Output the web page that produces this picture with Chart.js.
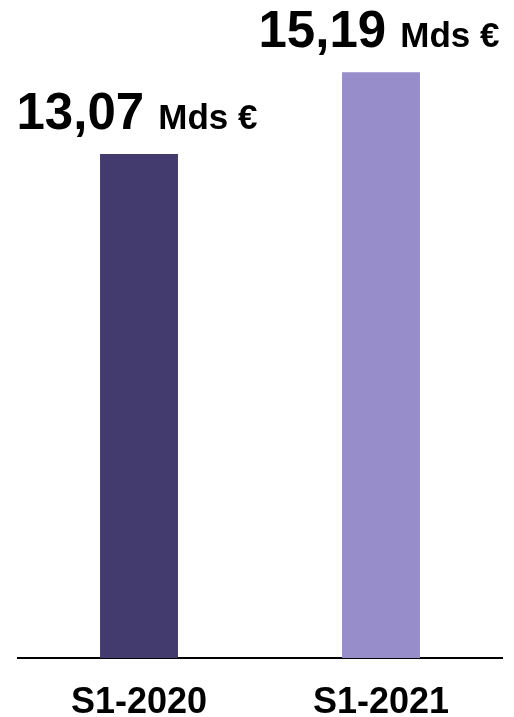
<!DOCTYPE html>
<html lang="fr">
<head>
<meta charset="utf-8">
<title>Chiffre d'affaires S1</title>
<script src="https://cdn.jsdelivr.net/npm/chart.js@4/dist/chart.umd.min.js"></script>
<style>
  html, body { margin: 0; padding: 0; background: #ffffff; }
  #wrap { position: relative; width: 514px; height: 717px; }
</style>
</head>
<body>
<div id="wrap"><canvas id="ca-chart"></canvas></div>
<script>
// données
var categories = ['S1-2020', 'S1-2021'];
var valeurs = [13.07, 15.19];
var couleurs = ['#433a6e', '#968dca'];
var unite = 'Mds €';

var FONT = '"Liberation Sans", Arial, Helvetica, sans-serif';

function formatFr(v) {
  return v.toFixed(2).replace('.', ',');
}

// étiquettes au-dessus des barres : gros chiffre + unité plus petite
var valueLabels = {
  id: 'valueLabels',
  afterDatasetsDraw: function (chart) {
    var ctx = chart.ctx;
    var meta = chart.getDatasetMeta(0);
    ctx.save();
    ctx.fillStyle = '#000000';
    ctx.textBaseline = 'alphabetic';
    ctx.textAlign = 'left';
    meta.data.forEach(function (bar, i) {
      var big = formatFr(valeurs[i]) + ' ';
      ctx.font = 'bold 51px ' + FONT;
      var wBig = ctx.measureText(big).width;
      ctx.font = 'bold 35px ' + FONT;
      var wSmall = ctx.measureText(unite).width;
      var x0 = bar.x - 2 - (wBig + wSmall) / 2;
      var y = bar.y - 25;
      ctx.font = 'bold 51px ' + FONT;
      ctx.fillText(big, x0, y);
      ctx.font = 'bold 35px ' + FONT;
      ctx.fillText(unite, x0 + wBig, y);
    });
    ctx.restore();
  }
};

new Chart(document.getElementById('ca-chart'), {
  type: 'bar',
  data: {
    labels: categories,
    datasets: [{
      data: valeurs,
      backgroundColor: couleurs,
      borderWidth: 0,
      categoryPercentage: 1,
      barPercentage: 0.322
    }]
  },
  options: {
    responsive: true,
    maintainAspectRatio: false,
    animation: false,
    layout: { padding: { top: 41, left: 18, right: 12, bottom: 0 } },
    plugins: {
      legend: { display: false },
      tooltip: { enabled: false }
    },
    scales: {
      x: {
        grid: { display: false },
        border: { display: true, color: '#000000', width: 2 },
        ticks: {
          color: '#000000',
          padding: 15,
          maxRotation: 0,
          font: { family: FONT, size: 36, weight: 'bold' }
        },
        afterFit: function (scale) {
          scale.height = 59;
        }
      },
      y: {
        display: false,
        min: 0,
        max: 16
      }
    }
  },
  plugins: [valueLabels]
});
</script>
</body>
</html>
